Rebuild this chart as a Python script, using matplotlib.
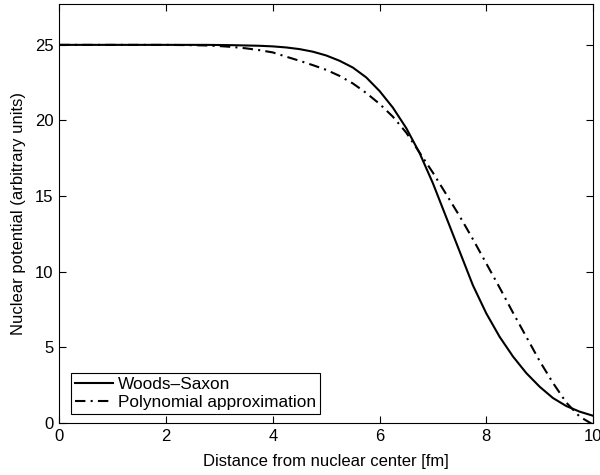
import matplotlib
matplotlib.use("Agg")
import matplotlib.pyplot as plt

plt.rcParams["font.family"] = ["Liberation Sans", "DejaVu Sans"]
plt.rcParams["font.size"] = 12

# distance from nuclear center [fm]
r = [0.0, 0.25, 0.5, 0.75, 1.0, 1.25, 1.5, 1.75, 2.0, 2.25, 2.5, 2.75,
     3.0, 3.25, 3.5, 3.75, 4.0, 4.25, 4.5, 4.75, 5.0, 5.25, 5.5, 5.75,
     6.0, 6.25, 6.5, 6.75, 7.0, 7.25, 7.5, 7.75, 8.0, 8.25, 8.5, 8.75,
     9.0, 9.25, 9.5, 9.75, 10.0]

woods_saxon = [25.0, 25.0, 25.0, 25.0, 25.0, 25.0, 25.0, 25.0, 25.0, 25.0,
               25.0, 25.0, 24.99, 24.98, 24.96, 24.94, 24.9, 24.83, 24.72,
               24.55, 24.3, 23.95, 23.5, 22.85, 21.95, 20.85, 19.5, 17.85,
               15.85, 13.6, 11.35, 9.1, 7.25, 5.7, 4.4, 3.3, 2.4, 1.65,
               1.12, 0.75, 0.48]

polynomial = [25.0, 25.0, 25.0, 25.0, 25.0, 25.0, 25.0, 25.0, 25.0, 24.99,
              24.98, 24.96, 24.92, 24.86, 24.77, 24.65, 24.5, 24.22, 23.95,
              23.66, 23.35, 22.95, 22.45, 21.82, 21.1, 20.25, 19.2, 17.88,
              16.55, 15.12, 13.68, 12.15, 10.55, 8.95, 7.3, 5.7, 4.1, 2.65,
              1.35, 0.42, -0.1]

fig = plt.figure(figsize=(6.0, 4.75), dpi=100)
ax = fig.add_axes([0.099, 0.1095, 0.8893, 0.882])

ax.plot(r, woods_saxon, "-", color="black", lw=1.5, label="Woods\u2013Saxon")
ax.plot(r, polynomial, color="black", lw=1.5, dashes=(5, 2.5, 1, 2.5),
        label="Polynomial approximation")

ax.set_xlim(0, 10)
ax.set_ylim(0, 27.7)
ax.set_xticks([0, 2, 4, 6, 8, 10])
ax.set_yticks([0, 5, 10, 15, 20, 25])
ax.tick_params(direction="in", top=True, right=True, length=5, width=0.8,
               labelsize=12, pad=4.3)
for s in ax.spines.values():
    s.set_linewidth(0.8)

ax.set_xlabel("Distance from nuclear center [fm]", fontsize=12, labelpad=7)
ax.set_ylabel("Nuclear potential (arbitrary units)", fontsize=12, labelpad=6)

leg = ax.legend(loc="lower left", bbox_to_anchor=(0.021, 0.021),
                borderaxespad=0, fancybox=False, framealpha=1,
                edgecolor="black", handlelength=2.2, handletextpad=0.3,
                borderpad=0.25, labelspacing=0.15, fontsize=12.4)
leg.get_frame().set_linewidth(0.8)

fig.savefig("out.png", dpi=100)
